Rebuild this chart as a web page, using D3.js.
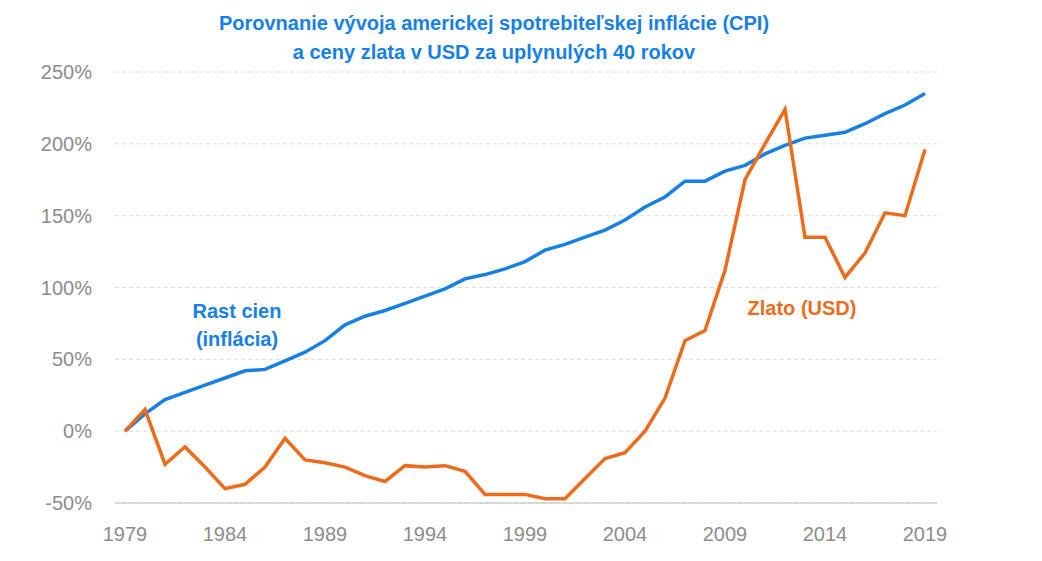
<!DOCTYPE html>
<html lang="sk">
<head>
<meta charset="UTF-8">
<script src="https://cdnjs.cloudflare.com/ajax/libs/d3/7.8.5/d3.min.js"></script>
<style>
  body { margin: 0; background: #fff; font-family: "Liberation Sans", Arial, sans-serif; }
</style>
</head>
<body>
<div id="chart"></div>
<script>
  // Údaje odčítané z grafu
  const years = d3.range(1979, 2020);
  const cpi = [0, 12, 22, 27, 32, 37, 42, 43, 49, 55, 63, 74, 80, 84, 89, 94, 99, 106, 109, 113, 118,
               126, 130, 135, 140, 147, 156, 163, 174, 174, 181, 185, 193, 199, 204, 206, 208, 214, 221, 227, 235];
  const gold = [0, 15, -23, -11, -25, -40, -37, -25, -5, -20, -22, -25, -31, -35, -24, -25, -24, -28, -44, -44, -44,
                -47, -47, -33, -19, -15, 0, 23, 63, 70, 112, 175, 200, 224, 135, 135, 107, 124, 152, 150, 196];
  const yTicks = [-50, 0, 50, 100, 150, 200, 250];
  const xTicks = [1979, 1984, 1989, 1994, 1999, 2004, 2009, 2014, 2019];

  const width = 1042, height = 561;
  const blue = "#1680e6", orange = "#ec6c1c";

  const svg = d3.select("#chart").append("svg")
      .attr("width", width).attr("height", height);

  const x = d3.scaleLinear().domain([1979, 2019]).range([125, 925]);
  const y = d3.scaleLinear().domain([-50, 250]).range([503, 72]);

  // Mriežka
  svg.append("g").selectAll("line").data(yTicks).enter().append("line")
      .attr("x1", 115).attr("x2", 937)
      .attr("y1", d => y(d)).attr("y2", d => y(d))
      .attr("stroke", "#dcdcdc").attr("stroke-dasharray", "4,3");

  svg.append("line").attr("x1", 115).attr("x2", 937)
      .attr("y1", y(-50)).attr("y2", y(-50)).attr("stroke", "#bbb");

  // Popisy osí
  svg.append("g").selectAll("text").data(yTicks).enter().append("text")
      .attr("x", 92).attr("y", d => y(d) + 7)
      .attr("text-anchor", "end").attr("fill", "#8c8c8c").style("font-size", "20px")
      .text(d => d + "%");

  svg.append("g").selectAll("text").data(xTicks).enter().append("text")
      .attr("x", d => x(d)).attr("y", 541)
      .attr("text-anchor", "middle").attr("fill", "#8c8c8c").style("font-size", "20px")
      .text(d => d);

  const line = d3.line().x((d, i) => x(years[i])).y(d => y(d));

  svg.append("path").datum(cpi).attr("d", line)
      .attr("fill", "none").attr("stroke", blue).attr("stroke-width", 3.5);
  svg.append("path").datum(gold).attr("d", line)
      .attr("fill", "none").attr("stroke", orange).attr("stroke-width", 3.5);

  // Nadpis
  const title = svg.append("text").attr("text-anchor", "middle")
      .attr("fill", blue).style("font-size", "20px").style("font-weight", "bold");
  title.append("tspan").attr("x", 494).attr("y", 30)
      .text("Porovnanie vývoja americkej spotrebiteľskej inflácie (CPI)");
  title.append("tspan").attr("x", 494).attr("y", 59)
      .text("a ceny zlata v USD za uplynulých 40 rokov");

  // Označenia sérií
  const lbl = svg.append("text").attr("text-anchor", "middle")
      .attr("fill", blue).style("font-size", "20px").style("font-weight", "bold");
  lbl.append("tspan").attr("x", 237).attr("y", 318).text("Rast cien");
  lbl.append("tspan").attr("x", 237).attr("y", 346).text("(inflácia)");

  svg.append("text").attr("x", 802).attr("y", 315).attr("text-anchor", "middle")
      .attr("fill", orange).style("font-size", "20px").style("font-weight", "bold")
      .text("Zlato (USD)");
</script>
</body>
</html>
